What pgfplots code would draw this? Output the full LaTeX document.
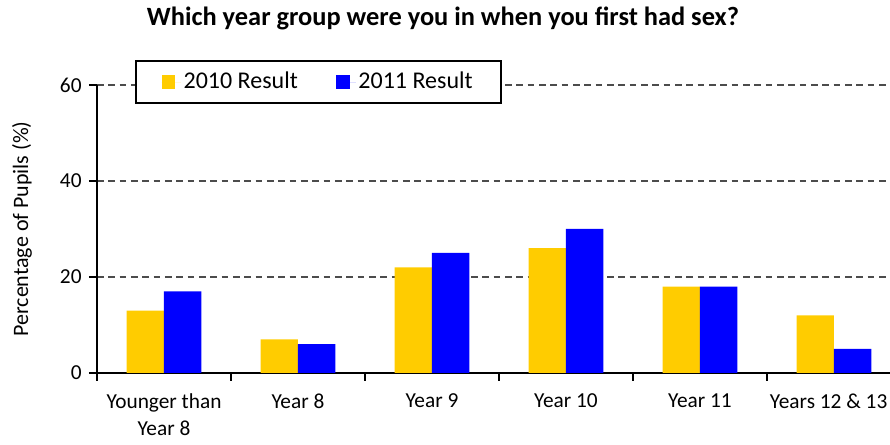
\documentclass[border=0pt]{standalone}
\usepackage{pgfplots}
\pgfplotsset{compat=1.18}
\usepackage{fontspec}
\setmainfont{Carlito}
\definecolor{cyellow}{HTML}{FFCC00}
\definecolor{cblue}{HTML}{0000FF}
\begin{document}
\fontsize{16}{19}\selectfont
\begin{tikzpicture}
\begin{axis}[
  at={(0,0)}, anchor=south west,
  scale only axis, width=603pt, height=216pt,
  xmin=-0.5, xmax=5.5, ymin=0, ymax=60,
  clip=false,
  axis x line*=bottom, axis y line*=left,
  axis line style={line width=1.3pt, black},
  tick style={line width=1.2pt, black},
  tick align=outside,
  major tick length=6pt,
  ytick={0,20,40,60},
  ymajorgrids,
  grid style={dashed, black!70, line width=0.8pt, dash pattern=on 5pt off 3.5pt},
  xtick={-0.5,0.5,1.5,2.5,3.5,4.5,5.5},
  xticklabels={},
  extra x ticks={0,1,2,3,4,5},
  extra x tick labels={Younger than\\Year 8, Year 8, Year 9, Year 10, Year 11, \hbox{\kern-8pt Years 12 \& 13}},
  extra x tick style={major tick length=0pt, grid=none, xticklabel style={align=center, yshift=-10pt}},
  /pgf/number format/assume math mode=true,
  ticklabel style={font=\fontsize{16}{20.5}\selectfont},
  ylabel={Percentage of Pupils (\%)},
  ylabel style={font=\fontsize{16.5}{19}\selectfont, at={(axis description cs:-0.0933,0.5)}, anchor=center},
  ybar=0pt, bar width=28pt,
  legend style={at={(0.2755,1.0104)}, anchor=center, legend columns=2,
    draw=black, line width=1.3pt, fill=white, font=\fontsize{18}{21}\selectfont,
    inner xsep=19pt, inner ysep=6.5pt,
    /tikz/every even column/.append style={column sep=27pt}},
  legend image code/.code={\fill[#1] (0pt,-5pt) rectangle (10pt,5pt); \path (0pt,0pt) -- (14.5pt,0pt);},
]
\addplot[fill=cyellow, draw=none] coordinates {(0,13) (1,7) (2,22) (3,26) (4,18) (5,12)};
\addplot[fill=cblue, draw=none] coordinates {(0,17) (1,6) (2,25) (3,30) (4,18) (5,5)};
\legend{2010 Result, 2011 Result}
\node[font=\bfseries\fontsize{19.8}{23}\selectfont] at (rel axis cs:0.4303,1.2326) {Which year group were you in when you first had sex?};
\end{axis}
\pgfresetboundingbox
\path (-72.75pt,-54pt) rectangle (594.75pt,279.75pt);
\end{tikzpicture}
\end{document}
